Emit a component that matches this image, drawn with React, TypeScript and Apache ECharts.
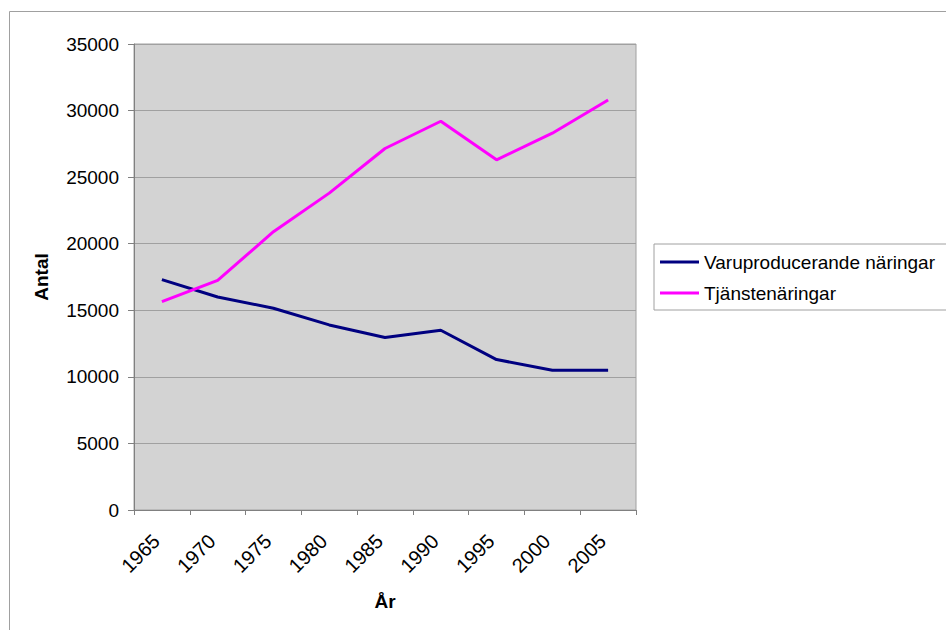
import React, { useEffect, useRef } from "react";
import * as echarts from "echarts";

const years = ["1965", "1970", "1975", "1980", "1985", "1990", "1995", "2000", "2005"];
const varuproducerande = [17300, 16000, 15150, 13900, 12950, 13500, 11300, 10500, 10500];
const tjanste = [15650, 17250, 20900, 23800, 27150, 29200, 26300, 28300, 30800];
const seriesNames = ["Varuproducerande näringar", "Tjänstenäringar"];

const FONT = "'Liberation Sans', Arial, sans-serif";

export default function App() {
  const ref = useRef<HTMLDivElement>(null);
  useEffect(() => {
    if (!ref.current) return;
    const chart = echarts.init(ref.current, null, { renderer: "svg" });
    chart.setOption({
      animation: false,
      backgroundColor: "#ffffff",
      graphic: [
        {
          type: "rect",
          shape: { x: 9.5, y: 11.5, width: 1000, height: 700 },
          style: { fill: "none", stroke: "#a0a0a0", lineWidth: 1 },
          silent: true,
          z: 0,
        },
      ],
      grid: {
        left: 134,
        top: 44,
        right: 310,
        bottom: 120,
        show: true,
        backgroundColor: "#d3d3d3",
        borderColor: "#a0a0a0",
        borderWidth: 1,
      },
      legend: {
        orient: "vertical",
        left: 654,
        top: 244,
        data: seriesNames,
        icon: "rect",
        padding: [8, 20, 7, 6],
        borderColor: "#a0a0a0",
        borderWidth: 1,
        itemWidth: 39,
        itemHeight: 3,
        itemGap: 11,
        textStyle: { fontFamily: FONT, fontSize: 19, color: "#000", lineHeight: 20 },
      },
      xAxis: {
        type: "category",
        data: years,
        boundaryGap: true,
        name: "År",
        nameLocation: "middle",
        nameGap: 82,
        nameTextStyle: { fontFamily: FONT, fontSize: 19, fontWeight: "bold", color: "#000" },
        axisLine: { show: true, lineStyle: { color: "#808080", width: 1 } },
        axisTick: { show: true, length: 5, lineStyle: { color: "#808080" }, alignWithLabel: false },
        axisLabel: {
          rotate: 45,
          margin: 22,
          padding: [0, 8, 0, 0],
          fontFamily: FONT,
          fontSize: 20,
          color: "#000",
          interval: 0,
        },
        splitLine: { show: false },
      },
      yAxis: {
        type: "value",
        min: 0,
        max: 35000,
        interval: 5000,
        name: "Antal",
        nameLocation: "middle",
        nameGap: 83,
        nameRotate: 90,
        nameTextStyle: { fontFamily: FONT, fontSize: 19, fontWeight: "bold", color: "#000" },
        axisLine: { show: true, lineStyle: { color: "#808080", width: 1 } },
        axisTick: { show: true, length: 6, lineStyle: { color: "#808080" } },
        axisLabel: {
          margin: 15,
          fontFamily: FONT,
          fontSize: 19,
          color: "#000",
          formatter: (v: number) => String(v),
        },
        splitLine: { show: true, lineStyle: { color: "#a0a0a0", width: 1 } },
      },
      series: [
        {
          name: seriesNames[0],
          type: "line",
          data: varuproducerande,
          symbol: "none",
          lineStyle: { color: "#000080", width: 3 },
          itemStyle: { color: "#000080" },
        },
        {
          name: seriesNames[1],
          type: "line",
          data: tjanste,
          symbol: "none",
          lineStyle: { color: "#ff00ff", width: 3 },
          itemStyle: { color: "#ff00ff" },
        },
      ],
    });
    return () => chart.dispose();
  }, []);
  return <div ref={ref} style={{ width: 946, height: 630, position: "absolute", left: 0, top: 0 }} />;
}
